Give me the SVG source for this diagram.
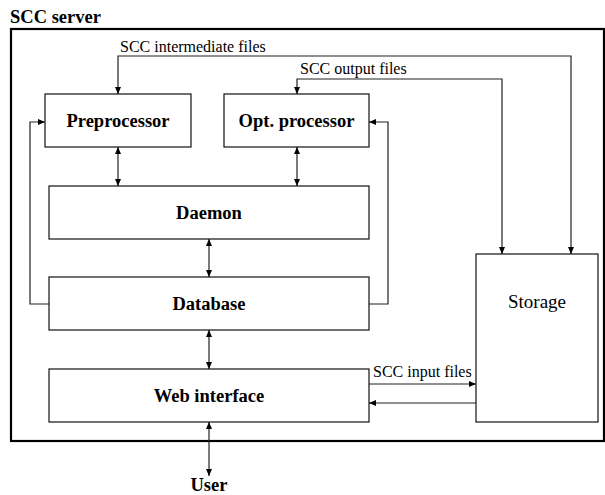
<svg xmlns="http://www.w3.org/2000/svg" width="605" height="495" viewBox="0 0 605 495">
<style>
.box{fill:#fff;stroke:#111;stroke-width:1.2}
.outer{fill:none;stroke:#000;stroke-width:2.2}
.node{font-family:"Liberation Serif",serif;font-weight:bold;font-size:18.5px;text-anchor:middle;fill:#000}
.lbl{font-family:"Liberation Serif",serif;font-size:16px;fill:#000}
.con{fill:none;stroke:#222;stroke-width:1.2}
.bi{marker-start:url(#ah);marker-end:url(#ah)}
.uni{marker-end:url(#ah)}
</style>
<defs>
<marker id="ah" markerUnits="userSpaceOnUse" markerWidth="8" markerHeight="6" refX="7" refY="3" orient="auto-start-reverse">
<path d="M0,0 L7,3 L0,6 z" fill="#000"/>
</marker>
</defs>
<rect width="605" height="495" fill="#fff"/>
<g id="server">
<text x="10" y="22.5" class="node" style="text-anchor:start">SCC server</text>
<rect class="outer" x="11" y="29" width="593" height="412"/>
</g>
<g id="connectors">
<path class="con bi" d="M571,254 V56 H118 V94"/>
<path class="con bi" d="M502,254 V79 H297 V94"/>
<path class="con bi" d="M118,147 V186"/>
<path class="con bi" d="M297,147 V186"/>
<path class="con bi" d="M209,239 V277"/>
<path class="con bi" d="M209,330 V369"/>
<path class="con bi" d="M209,422 V476"/>
<path class="con uni" d="M49,304 H30 V122 H45"/>
<path class="con uni" d="M369,304 H388 V122 H369"/>
<path class="con uni" d="M369,384 H476"/>
<path class="con uni" d="M476,403 H369"/>
<text class="lbl" x="120" y="51.5">SCC intermediate files</text>
<text class="lbl" x="300" y="73.5">SCC output files</text>
<text class="lbl" x="373" y="377">SCC input files</text>
</g>
<g id="preprocessor">
<rect class="box" x="45" y="94" width="146" height="53"/>
<text class="node" x="118" y="127">Preprocessor</text>
</g>
<g id="optprocessor">
<rect class="box" x="224" y="94" width="145" height="53"/>
<text class="node" x="296.5" y="127">Opt. processor</text>
</g>
<g id="daemon">
<rect class="box" x="49" y="186" width="320" height="53"/>
<text class="node" x="209" y="218.5">Daemon</text>
</g>
<g id="database">
<rect class="box" x="49" y="277" width="320" height="53"/>
<text class="node" x="209" y="309.5">Database</text>
</g>
<g id="webinterface">
<rect class="box" x="49" y="369" width="320" height="53"/>
<text class="node" x="209" y="401.5">Web interface</text>
</g>
<g id="storage">
<rect class="box" x="476" y="254" width="122" height="168"/>
<text x="537" y="308" style="font-family:'Liberation Serif',serif;font-size:19px;text-anchor:middle">Storage</text>
</g>
<g id="user">
<text class="node" x="209" y="490.5">User</text>
</g>
</svg>
